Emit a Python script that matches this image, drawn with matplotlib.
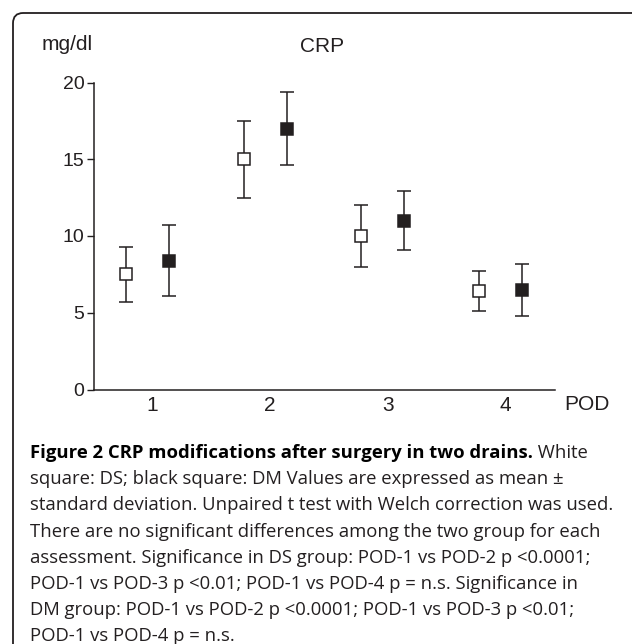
import matplotlib
matplotlib.use("Agg")
import matplotlib.pyplot as plt
from matplotlib.patches import FancyBboxPatch

# CRP (mg/dl), mean and SD per post-operative day
pod = [1, 2, 3, 4]
ds_mean = [7.5, 15.0, 10.0, 6.4]
ds_sd = [1.8, 2.5, 2.0, 1.3]
dm_mean = [8.4, 17.0, 11.0, 6.5]
dm_sd = [2.3, 2.4, 1.9, 1.7]
y_ticks = [0, 5, 10, 15, 20]

caption_bold = "Figure 2 CRP modifications after surgery in two drains."
caption_lines = [
    " White",
    "square: DS; black square: DM Values are expressed as mean \u00b1",
    "standard deviation. Unpaired t test with Welch correction was used.",
    "There are no significant differences among the two group for each",
    "assessment. Significance in DS group: POD-1 vs POD-2 p <0.0001;",
    "POD-1 vs POD-3 p <0.01; POD-1 vs POD-4 p = n.s. Significance in",
    "DM group: POD-1 vs POD-2 p <0.0001; POD-1 vs POD-3 p <0.01;",
    "POD-1 vs POD-4 p = n.s.",
]

W, H = 632, 644
ink = "#231f20"
chart_font = "Liberation Sans"

fig = plt.figure(figsize=(W / 100, H / 100), dpi=100)

# rounded frame around the figure
frame = FancyBboxPatch((13 / W, -0.1), 1.2, 1.1 - 13 / H,
                       boxstyle="round,pad=0,rounding_size=0.016",
                       transform=fig.transFigure, fill=False,
                       edgecolor=ink, linewidth=1.3)
fig.patches.append(frame)

ax = fig.add_axes([94 / W, (H - 389.5) / H, (555 - 94) / W, 307 / H])
off = 0.183
ax.errorbar([p - off for p in pod], ds_mean, yerr=ds_sd, fmt="s",
            color=ink, mfc="white", mec=ink, mew=1.1, ms=8.8,
            elinewidth=1.1, capsize=5, capthick=1.6)
ax.errorbar([p + off for p in pod], dm_mean, yerr=dm_sd, fmt="s",
            color=ink, mfc=ink, mec=ink, mew=1.1, ms=8.8,
            elinewidth=1.1, capsize=5, capthick=1.6)

ax.set_xlim(0.545, 4.462)
ax.set_ylim(0, 20)
ax.set_yticks(y_ticks)
ax.set_xticks([p + 0.04 for p in pod])
ax.set_xticklabels([str(p) for p in pod], fontsize=15, family=chart_font,
                   color=ink)
ax.set_yticklabels([str(t) for t in y_ticks], fontsize=14, family=chart_font,
                   color=ink)
ax.tick_params(axis="x", length=0, pad=5)
ax.tick_params(axis="y", length=5, width=1.0, color=ink, pad=2)
for s in ["top", "right"]:
    ax.spines[s].set_visible(False)
for s in ["left", "bottom"]:
    ax.spines[s].set_linewidth(1.1)
    ax.spines[s].set_color(ink)

fig.text(587 / W, 1 - 405 / H, "POD", ha="center", va="center",
         fontsize=15, family=chart_font, color=ink)
fig.text(67 / W, 1 - 45 / H, "mg/dl", ha="center", va="center",
         fontsize=15, family=chart_font, color=ink)
fig.text(322 / W, 1 - 47 / H, "CRP", ha="center", va="center",
         fontsize=15, family=chart_font, color=ink)

# caption
cap_x = 30 / W
cap_y0 = 453
cap_dy = 26.2
cap_size = 13.3
b = fig.text(cap_x, 1 - cap_y0 / H, caption_bold, ha="left", va="center",
             fontsize=cap_size, family="Open Sans", weight="bold", color="black")
fig.canvas.draw()
bb = b.get_window_extent(fig.canvas.get_renderer())
fig.text(bb.x1 / W, 1 - cap_y0 / H, caption_lines[0], ha="left", va="center",
         fontsize=cap_size, family="Open Sans", color=ink)
for i, line in enumerate(caption_lines[1:], start=1):
    fig.text(cap_x, 1 - (cap_y0 + i * cap_dy) / H, line, ha="left",
             va="center", fontsize=cap_size, family="Open Sans", color=ink)

fig.savefig("out.png", dpi=100)
